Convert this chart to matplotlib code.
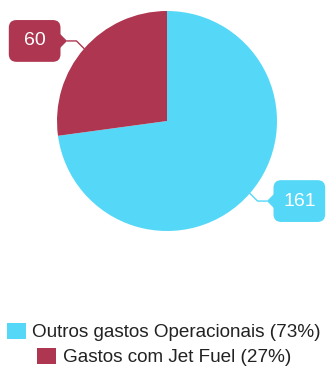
import numpy as np
import matplotlib
matplotlib.use("Agg")
import matplotlib.pyplot as plt
from matplotlib.patches import Patch, Polygon, FancyBboxPatch

plt.rcParams['font.family'] = ['Liberation Sans', 'DejaVu Sans']

# gastos (valores absolutos)
labels = ["Outros gastos Operacionais", "Gastos com Jet Fuel"]
values = [161, 60]
colors = ["#55D8F7", "#AE3651"]

W, H = 328, 378
fig = plt.figure(figsize=(W / 100, H / 100), dpi=100)

# pie centred at (167, 121) px, radius 110 px
cx, cy, r = 167, 121, 110
ax = fig.add_axes([(cx - r) / W, (H - cy - r) / H, 2 * r / W, 2 * r / H])
wedges, _ = ax.pie(values, colors=colors, startangle=90, counterclock=False,
                   radius=1, wedgeprops=dict(linewidth=0))
ax.set_xlim(-1, 1)
ax.set_ylim(-1, 1)
ax.axis("off")

# value callouts
hw, hh, pad = 0.235, 0.19, 0.03
for w, v, c in zip(wedges, values, colors):
    ang = np.deg2rad((w.theta1 + w.theta2) / 2)
    ex, ey = np.cos(ang), np.sin(ang)
    side = np.sign(ex)
    bx, by = ex + side * 0.45, ey + np.sign(ey) * 0.07
    edge = bx - side * hw
    tip_x = edge - side * 0.06
    # leader line
    ax.plot([ex, ex + side * 0.07, tip_x], [ey, by, by], color=c,
            lw=1.0, clip_on=False, solid_capstyle="round")
    # box + little pointer
    ax.add_patch(FancyBboxPatch((bx - hw + pad, by - hh + pad),
                                2 * (hw - pad), 2 * (hh - pad),
                                boxstyle=f"round,pad={pad},rounding_size=0.07",
                                fc=c, ec="none", clip_on=False))
    ax.add_patch(Polygon([[tip_x, by], [edge + side * 0.01, by + 0.07],
                          [edge + side * 0.01, by - 0.07]], closed=True,
                         fc=c, ec="none", clip_on=False))
    ax.text(bx, by, str(v), color="white", fontsize=14, ha="center",
            va="center", clip_on=False)

# legend, one centred row per entry
total = sum(values)
rows_y = [(H - 332) / H, (H - 357) / H]
for lab, v, c, y in zip(labels, values, colors, rows_y):
    pct = round(100 * v / total)
    h = Patch(facecolor=c, edgecolor="none")
    leg = fig.legend([h], [f"{lab} ({pct}%)"], loc="center",
                     bbox_to_anchor=(0.5, y), frameon=False, fontsize=13.6,
                     handlelength=1.0, handleheight=1.0, handletextpad=0.35,
                     borderpad=0, borderaxespad=0)
    for t in leg.get_texts():
        t.set_color("#222222")

fig.savefig("out.png", dpi=100)
